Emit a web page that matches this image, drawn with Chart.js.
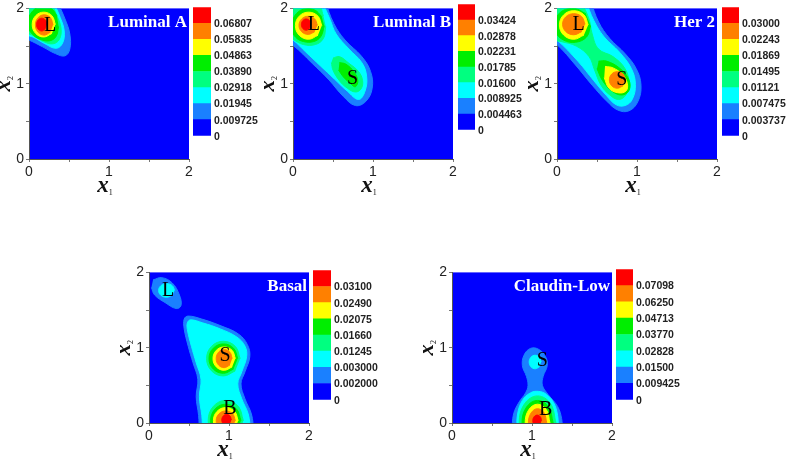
<!DOCTYPE html>
<html>
<head>
<meta charset="utf-8">
<script src="https://cdn.jsdelivr.net/npm/chart.js@4.4.1/dist/chart.umd.min.js"></script>
<style>
  html, body { margin: 0; padding: 0; background: #fff; }
  body { position: relative; width: 787px; height: 460px; overflow: hidden; }
  canvas { position: absolute; }
</style>
</head>
<body>
<script>
// colour of each contour band, 0 = background band
const levelColors = ['#0000ff', '#1a80ff', '#00ffff', '#00ff80', '#00ee00', '#ffff00', '#ff8000', '#ff0000'];

// Luminal A
const lumALevels = ['0', '0.009725', '0.01945', '0.02918', '0.03890', '0.04863', '0.05835', '0.06807'];
const lumAMarks = [['L', 0.265, 1.775]];
const lumAContours = [
  [1, [[0.35,2.1],[0.45,1.86],[0.51,1.66],[0.51,1.46],[0.45,1.37],[0.33,1.40],[0.17,1.49],[0.0,1.58],[-0.1,1.62],[-0.1,2.1]]],
  [2, [[0.30,2.1],[0.39,1.88],[0.44,1.70],[0.42,1.54],[0.34,1.47],[0.20,1.53],[0.05,1.62],[-0.1,1.68],[-0.1,2.1]]],
  [3, [[0.27,2.1],[0.35,1.90],[0.40,1.74],[0.38,1.59],[0.30,1.53],[0.18,1.56],[0.05,1.64],[-0.1,1.72],[-0.1,2.1]]],
  [4, [[0.37,1.76],[0.34,1.63],[0.26,1.57],[0.14,1.59],[0.04,1.66],[-0.02,1.78],[0.02,1.93],[0.14,2.03],[0.28,2.0],[0.35,1.90]]],
  [5, [[0.33,1.785],[0.2875,1.902],[0.185,1.95],[0.0825,1.902],[0.04,1.785],[0.0825,1.668],[0.185,1.62],[0.2875,1.668]]],
  [6, [[0.30,1.78],[0.268,1.875],[0.19,1.915],[0.112,1.875],[0.08,1.78],[0.112,1.685],[0.19,1.645],[0.268,1.685]]],
  [7, [[0.225,1.785],[0.206,1.845],[0.16,1.87],[0.114,1.845],[0.095,1.785],[0.114,1.725],[0.16,1.70],[0.206,1.725]]],
];

// Luminal B
const lumBLevels = ['0', '0.004463', '0.008925', '0.01600', '0.01785', '0.02231', '0.02878', '0.03424'];
const lumBMarks = [['L', 0.26, 1.78], ['S', 0.745, 1.07]];
const lumBContours = [
  [1, [[0.40,2.1],[0.51,1.80],[0.65,1.58],[0.86,1.36],[0.97,1.16],[0.99,0.94],[0.91,0.765],[0.78,0.71],[0.63,0.83],[0.45,1.05],[0.24,1.27],[0.0,1.51],[-0.1,1.56],[-0.1,2.1]]],
  [2, [[0.36,2.1],[0.46,1.86],[0.54,1.66],[0.70,1.46],[0.86,1.28],[0.92,1.10],[0.90,0.90],[0.82,0.79],[0.68,0.90],[0.52,1.06],[0.34,1.24],[0.16,1.42],[0.0,1.58],[-0.1,1.64],[-0.1,2.1]]],
  [3, [[0.41,1.76],[0.38,1.60],[0.28,1.52],[0.13,1.52],[0.0,1.59],[-0.1,1.66],[-0.1,2.1],[0.30,2.1],[0.38,1.90]]],
  [3, [[0.50,1.34],[0.58,1.36],[0.70,1.27],[0.82,1.16],[0.87,1.04],[0.85,0.93],[0.78,0.89],[0.68,0.94],[0.58,1.04],[0.50,1.18],[0.48,1.28]]],
  [4, [[0.39,1.77],[0.35,1.63],[0.26,1.56],[0.13,1.56],[0.03,1.62],[-0.02,1.74],[0.02,1.90],[0.13,1.99],[0.27,1.98],[0.36,1.89]]],
  [4, [[0.58,1.28],[0.66,1.26],[0.76,1.16],[0.81,1.04],[0.78,0.96],[0.72,1.00],[0.63,1.09],[0.57,1.18]]],
  [5, [[0.36,1.77],[0.312,1.897],[0.195,1.95],[0.078,1.897],[0.03,1.77],[0.078,1.643],[0.195,1.59],[0.312,1.643]]],
  [6, [[0.305,1.775],[0.271,1.86],[0.19,1.895],[0.109,1.86],[0.075,1.775],[0.109,1.69],[0.19,1.655],[0.271,1.69]]],
  [7, [[0.225,1.785],[0.207,1.838],[0.165,1.86],[0.123,1.838],[0.105,1.785],[0.123,1.732],[0.165,1.71],[0.207,1.732]]],
];

// Her 2
const her2Levels = ['0', '0.003737', '0.007475', '0.01121', '0.01495', '0.01869', '0.02243', '0.03000'];
const her2Marks = [['L', 0.27, 1.78], ['S', 0.81, 1.05]];
const her2Contours = [
  [1, [[0.42,2.1],[0.52,1.82],[0.66,1.60],[0.85,1.40],[0.99,1.20],[1.05,0.98],[1.01,0.76],[0.90,0.64],[0.76,0.65],[0.62,0.77],[0.44,0.98],[0.23,1.25],[0.0,1.52],[-0.1,1.58],[-0.1,2.1]]],
  [2, [[0.36,2.1],[0.46,1.84],[0.59,1.62],[0.78,1.42],[0.93,1.20],[0.98,0.99],[0.94,0.79],[0.85,0.71],[0.74,0.72],[0.62,0.84],[0.46,1.04],[0.26,1.30],[0.0,1.58],[-0.1,1.63],[-0.1,2.1]]],
  [3, [[0.30,2.1],[0.40,1.86],[0.44,1.66],[0.52,1.46],[0.70,1.36],[0.85,1.20],[0.90,1.01],[0.86,0.85],[0.77,0.79],[0.66,0.85],[0.55,0.98],[0.47,1.18],[0.40,1.36],[0.24,1.50],[0.05,1.56],[-0.1,1.60],[-0.1,2.1]]],
  [4, [[0.42,1.77],[0.37,1.62],[0.23,1.55],[0.08,1.58],[-0.01,1.68],[-0.01,1.86],[0.07,1.97],[0.22,2.0],[0.36,1.93]]],
  [4, [[0.52,1.30],[0.62,1.30],[0.79,1.20],[0.90,1.05],[0.90,0.91],[0.81,0.85],[0.69,0.90],[0.57,1.04],[0.50,1.20]]],
  [5, [[0.39,1.78],[0.337,1.914],[0.21,1.97],[0.083,1.914],[0.03,1.78],[0.083,1.646],[0.21,1.59],[0.337,1.646]]],
  [5, [[0.60,1.23],[0.70,1.21],[0.82,1.12],[0.88,1.00],[0.86,0.90],[0.76,0.88],[0.65,0.94],[0.59,1.08]]],
  [6, [[0.35,1.79],[0.309,1.889],[0.21,1.93],[0.111,1.889],[0.07,1.79],[0.111,1.691],[0.21,1.65],[0.309,1.691]]],
  [6, [[0.855,1.05],[0.826,1.128],[0.755,1.16],[0.684,1.128],[0.655,1.05],[0.684,0.972],[0.755,0.94],[0.826,0.972]]],
];

// Basal
const basalLevels = ['0', '0.002000', '0.003000', '0.01245', '0.01660', '0.02075', '0.02490', '0.03100'];
const basalMarks = [['L', 0.24, 1.76], ['S', 0.95, 0.89], ['B', 1.01, 0.19]];
const basalContours = [
  [1, [[0.05,1.90],[0.16,1.93],[0.29,1.86],[0.38,1.70],[0.40,1.56],[0.34,1.52],[0.20,1.60],[0.07,1.70],[0.03,1.80]]],
  [2, [[0.32,1.76],[0.291,1.824],[0.22,1.85],[0.149,1.824],[0.12,1.76],[0.149,1.696],[0.22,1.67],[0.291,1.696]]],
  [1, [[0.63,-0.1],[0.62,0.10],[0.59,0.35],[0.61,0.58],[0.55,0.80],[0.49,1.02],[0.44,1.25],[0.44,1.38],[0.49,1.42],[0.66,1.38],[0.90,1.29],[1.12,1.18],[1.23,1.04],[1.26,0.88],[1.20,0.68],[1.15,0.52],[1.20,0.32],[1.28,0.12],[1.31,-0.1]]],
  [2, [[0.67,-0.1],[0.66,0.10],[0.63,0.35],[0.65,0.58],[0.59,0.80],[0.53,1.02],[0.48,1.24],[0.48,1.33],[0.52,1.37],[0.67,1.33],[0.89,1.25],[1.10,1.14],[1.20,1.02],[1.22,0.88],[1.16,0.68],[1.11,0.52],[1.16,0.32],[1.24,0.12],[1.27,-0.1]]],
  [3, [[1.14,0.855],[1.078,1.018],[0.93,1.085],[0.782,1.018],[0.72,0.855],[0.782,0.692],[0.93,0.625],[1.078,0.692]]],
  [4, [[1.11,0.855],[1.057,0.993],[0.93,1.05],[0.803,0.993],[0.75,0.855],[0.803,0.717],[0.93,0.66],[1.057,0.717]]],
  [5, [[1.08,0.855],[1.039,0.965],[0.94,1.01],[0.841,0.965],[0.80,0.855],[0.841,0.745],[0.94,0.70],[1.039,0.745]]],
  [6, [[1.04,0.855],[1.011,0.94],[0.94,0.975],[0.869,0.94],[0.84,0.855],[0.869,0.77],[0.94,0.735],[1.011,0.77]]],
  [3, [[1.18,0.03],[1.116,0.221],[0.96,0.30],[0.804,0.221],[0.74,0.03],[0.804,-0.161],[0.96,-0.24],[1.116,-0.161]]],
  [4, [[1.15,0.03],[1.094,0.186],[0.96,0.25],[0.826,0.186],[0.77,0.03],[0.826,-0.126],[0.96,-0.19],[1.094,-0.126]]],
  [5, [[1.115,0.03],[1.07,0.154],[0.96,0.205],[0.85,0.154],[0.805,0.03],[0.85,-0.094],[0.96,-0.145],[1.07,-0.094]]],
  [6, [[1.08,0.03],[1.045,0.122],[0.96,0.16],[0.875,0.122],[0.84,0.03],[0.875,-0.062],[0.96,-0.10],[1.045,-0.062]]],
  [7, [[1.03,0.04],[1.012,0.093],[0.97,0.115],[0.928,0.093],[0.91,0.04],[0.928,-0.013],[0.97,-0.035],[1.012,-0.013]]],
];

// Claudin-Low
const claudinLevels = ['0', '0.009425', '0.01500', '0.02828', '0.03770', '0.04713', '0.06250', '0.07098'];
const claudinMarks = [['S', 1.13, 0.83], ['B', 1.17, 0.17]];
const claudinContours = [
  [1, [[0.75,-0.1],[0.77,0.12],[0.84,0.28],[0.92,0.40],[0.95,0.50],[0.93,0.62],[0.88,0.76],[0.90,0.90],[0.98,0.99],[1.08,0.98],[1.17,0.88],[1.19,0.76],[1.14,0.62],[1.13,0.50],[1.20,0.38],[1.32,0.22],[1.37,0.06],[1.38,-0.1]]],
  [2, [[1.115,0.81],[1.093,0.874],[1.04,0.90],[0.987,0.874],[0.965,0.81],[0.987,0.746],[1.04,0.72],[1.093,0.746]]],
  [2, [[0.81,-0.1],[0.82,0.12],[0.88,0.30],[0.98,0.40],[1.08,0.42],[1.18,0.38],[1.27,0.27],[1.32,0.10],[1.33,-0.1]]],
  [3, [[1.30,0.0],[1.233,0.255],[1.07,0.36],[0.907,0.255],[0.84,0.0],[0.907,-0.255],[1.07,-0.36],[1.233,-0.255]]],
  [4, [[1.265,0.0],[1.208,0.212],[1.07,0.30],[0.932,0.212],[0.875,0.0],[0.932,-0.212],[1.07,-0.30],[1.208,-0.212]]],
  [5, [[1.225,0.0],[1.18,0.177],[1.07,0.25],[0.96,0.177],[0.915,0.0],[0.96,-0.177],[1.07,-0.25],[1.18,-0.177]]],
  [6, [[1.185,0.0],[1.151,0.134],[1.07,0.19],[0.989,0.134],[0.955,0.0],[0.989,-0.134],[1.07,-0.19],[1.151,-0.134]]],
  [7, [[1.12,0.03],[1.104,0.083],[1.065,0.105],[1.026,0.083],[1.01,0.03],[1.026,-0.023],[1.065,-0.045],[1.104,-0.023]]],
];

const panels = [
  {title: 'Luminal A', contours: lumAContours, marks: lumAMarks, levels: lumALevels, left: 29, top: 8, bar: [193, 6, 18, 131]},
  {title: 'Luminal B', contours: lumBContours, marks: lumBMarks, levels: lumBLevels, left: 293, top: 8, bar: [458, 3, 17, 128]},
  {title: 'Her 2', contours: her2Contours, marks: her2Marks, levels: her2Levels, left: 557, top: 8, bar: [722, 6, 17, 131]},
  {title: 'Basal', contours: basalContours, marks: basalMarks, levels: basalLevels, left: 149, top: 272, bar: [313, 269, 18, 132]},
  {title: 'Claudin-Low', contours: claudinContours, marks: claudinMarks, levels: claudinLevels, left: 452, top: 272, bar: [616, 268, 17, 133]},
];

const PLOT_W = 160, PLOT_H = 151, AXIS_W = 29, AXIS_H = 40, PAD_TOP = 10, PAD_RIGHT = 8;
const SERIF = '"Liberation Serif", "Times New Roman", serif';

Chart.defaults.font.family = '"Liberation Sans", Arial, sans-serif';
Chart.defaults.animation = false;

function addCanvas(left, top, width, height) {
  const canvas = document.createElement('canvas');
  canvas.width = width;
  canvas.height = height;
  canvas.style.left = left + 'px';
  canvas.style.top = top + 'px';
  canvas.style.width = width + 'px';
  canvas.style.height = height + 'px';
  document.body.appendChild(canvas);
  return canvas;
}

// italic x with a small index below right of it, centred on cx
function drawAxisName(ctx, sub, cx, base) {
  ctx.font = 'italic bold 23px ' + SERIF;
  const w = ctx.measureText('x').width;
  ctx.font = '8px ' + SERIF;
  const sw = ctx.measureText(sub).width;
  const left = cx - (w + sw) / 2;
  ctx.textAlign = 'left';
  ctx.textBaseline = 'alphabetic';
  ctx.font = 'italic bold 23px ' + SERIF;
  ctx.fillText('x', left, base);
  ctx.font = '8px ' + SERIF;
  ctx.fillText(sub, left + w, base + 3);
}

function panelPlugin(panel) {
  return {
    id: 'panelDecor',
    beforeDraw(chart) {
      const {ctx, chartArea: a} = chart;
      ctx.save();
      ctx.fillStyle = levelColors[0];
      ctx.fillRect(a.left, a.top, a.right - a.left, a.bottom - a.top);
      ctx.restore();
    },
    afterDraw(chart) {
      const {ctx, chartArea: a, scales: {x, y}} = chart;
      ctx.save();
      ctx.fillStyle = '#000';
      ctx.font = '20px ' + SERIF;
      ctx.textAlign = 'center';
      ctx.textBaseline = 'middle';
      panel.marks.forEach(([text, mx, my]) => {
        ctx.fillText(text, x.getPixelForValue(mx), y.getPixelForValue(my));
      });

      ctx.fillStyle = '#fff';
      ctx.font = 'bold 17px ' + SERIF;
      ctx.textAlign = 'right';
      ctx.textBaseline = 'alphabetic';
      ctx.fillText(panel.title, a.right - 2, a.top + 19);

      ctx.fillStyle = '#111';
      drawAxisName(ctx, '1', (a.left + a.right) / 2 - 4, a.bottom + 33);
      ctx.translate(a.left - 19, (a.top + a.bottom) / 2);
      ctx.rotate(-Math.PI / 2);
      drawAxisName(ctx, '2', 0, 0);
      ctx.restore();
    },
  };
}

function axisOptions(isX) {
  return {
    type: 'linear',
    min: 0,
    max: 2,
    z: 1,
    afterFit: scale => {
      if (isX) scale.height = AXIS_H;
      else scale.width = AXIS_W;
    },
    ticks: {
      stepSize: 0.5,
      autoSkip: false,
      maxRotation: 0,
      padding: 2,
      color: '#222',
      font: {size: 14},
      callback: value => Number.isInteger(value) ? String(value) : '',
    },
    grid: {drawOnChartArea: false, tickLength: 3, color: '#777'},
    border: {color: '#555', width: 1},
  };
}

panels.forEach(panel => {
  const canvas = addCanvas(panel.left - AXIS_W, panel.top - PAD_TOP,
    AXIS_W + PLOT_W + PAD_RIGHT, PAD_TOP + PLOT_H + AXIS_H);

  new Chart(canvas, {
    type: 'scatter',
    data: {
      datasets: panel.contours.map(([level, pts]) => ({
        data: pts.map(([x, y]) => ({x, y})),
        showLine: true,
        fill: 'shape',
        tension: 0.4,
        backgroundColor: levelColors[level],
        borderColor: levelColors[level],
        borderWidth: 1,
        pointRadius: 0,
        pointHoverRadius: 0,
        order: 10 - level,
      })),
    },
    options: {
      responsive: false,
      events: [],
      layout: {padding: {top: PAD_TOP, right: PAD_RIGHT, left: 0, bottom: 0}},
      plugins: {legend: {display: false}, tooltip: {enabled: false}},
      scales: {x: axisOptions(true), y: axisOptions(false)},
    },
    plugins: [panelPlugin(panel)],
  });

  const [barLeft, barTop, barW, barH] = panel.bar;
  const barCanvas = addCanvas(barLeft, barTop - 8, barW + 52, barH + 16);
  new Chart(barCanvas, {
    type: 'bar',
    data: {
      labels: [''],
      datasets: levelColors.map(color => ({
        data: [1],
        backgroundColor: color,
        borderWidth: 0,
        barPercentage: 1,
        categoryPercentage: 1,
        stack: 'scale',
      })),
    },
    options: {
      responsive: false,
      events: [],
      layout: {padding: {top: 8, bottom: 8, left: 0, right: 0}},
      plugins: {legend: {display: false}, tooltip: {enabled: false}},
      scales: {
        x: {display: false, stacked: true},
        y: {
          stacked: true,
          position: 'right',
          min: 0,
          max: 8,
          afterFit: scale => { scale.width = 52; },
          ticks: {
            stepSize: 1,
            padding: 3,
            labelOffset: 1,
            color: '#222',
            font: {size: 10.5, weight: 'bold'},
            callback: value => panel.levels[value] ?? '',
          },
          grid: {display: false, drawTicks: false},
          border: {display: false},
        },
      },
    },
  });
});
</script>
</body>
</html>
